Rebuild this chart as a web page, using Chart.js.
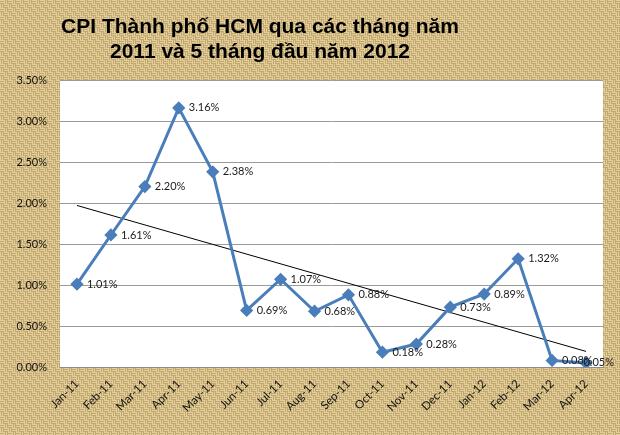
<!DOCTYPE html>
<html>
<head>
<meta charset="utf-8">
<script src="https://cdn.jsdelivr.net/npm/chart.js@4.4.1/dist/chart.umd.min.js"></script>
<style>
  html, body { margin: 0; padding: 0; background: #c2a76f; }
  #wrap { width: 620px; height: 435px; position: relative; }
</style>
</head>
<body>
<div id="wrap"><canvas id="cpiChart"></canvas></div>
<script>
const months = ['Jan-11', 'Feb-11', 'Mar-11', 'Apr-11', 'May-11', 'Jun-11', 'Jul-11', 'Aug-11',
  'Sep-11', 'Oct-11', 'Nov-11', 'Dec-11', 'Jan-12', 'Feb-12', 'Mar-12', 'Apr-12'];
const cpiValues = [1.01, 1.61, 2.20, 3.16, 2.38, 0.69, 1.07, 0.68, 0.88, 0.18, 0.28, 0.73, 0.89, 1.32, 0.08, 0.05];
// trend line ends
const trendMonths = ['Jan-11', 'Apr-12'];
const trendValues = [1.97, 0.19];
const titleLines = ['CPI Thành phố HCM qua các tháng năm', '2011 và 5 tháng đầu năm 2012'];

// woven burlap tile
function makeWeave() {
  const c = document.createElement('canvas');
  c.width = 8;
  c.height = 8;
  const g = c.getContext('2d');
  g.fillStyle = '#9c7f4b';
  g.fillRect(0, 0, 8, 8);
  g.fillStyle = '#e4cf98';
  for (let bx = 0; bx < 2; bx++) {
    for (let by = 0; by < 2; by++) {
      const x0 = bx * 4;
      const y0 = by * 4;
      if ((bx + by) % 2 === 0) {
        g.fillRect(x0, y0, 4, 1.5);
        g.fillRect(x0, y0 + 2, 4, 1.5);
      } else {
        g.fillRect(x0, y0, 1.5, 4);
        g.fillRect(x0 + 2, y0, 1.5, 4);
      }
    }
  }
  return c;
}

const backgroundPlugin = {
  id: 'burlap',
  beforeDraw(chart) {
    const { ctx, chartArea } = chart;
    ctx.save();
    ctx.fillStyle = ctx.createPattern(makeWeave(), 'repeat');
    ctx.fillRect(0, 0, chart.width, chart.height);
    ctx.fillStyle = '#ffffff';
    ctx.fillRect(chartArea.left, chartArea.top,
      chartArea.right - chartArea.left, chartArea.bottom - chartArea.top);
    ctx.restore();
  },
  afterDraw(chart) {
    const ctx = chart.ctx;
    ctx.save();
    ctx.fillStyle = '#000000';
    ctx.font = 'bold 21px "Liberation Sans", Arial, sans-serif';
    ctx.textAlign = 'center';
    ctx.textBaseline = 'middle';
    ctx.fillText(titleLines[0], 260, 27);
    ctx.fillText(titleLines[1], 260, 52);
    ctx.restore();
  },
};

const pointLabels = {
  id: 'pointLabels',
  afterDatasetsDraw(chart) {
    const ctx = chart.ctx;
    const meta = chart.getDatasetMeta(0);
    ctx.save();
    ctx.font = '11px Lato, "Open Sans", sans-serif';
    ctx.fillStyle = '#1a1a1a';
    ctx.textAlign = 'left';
    ctx.textBaseline = 'middle';
    meta.data.forEach((pt, i) => {
      const txt = cpiValues[i].toFixed(2) + '%';
      // keep the label inside the chart, as the spreadsheet does
      const x = Math.min(pt.x + 10, chart.width - 6 - ctx.measureText(txt).width);
      ctx.fillText(txt, x, pt.y);
    });
    ctx.restore();
  },
};

new Chart(document.getElementById('cpiChart'), {
  type: 'line',
  data: {
    labels: months,
    datasets: [
      {
        label: 'CPI',
        data: cpiValues,
        borderColor: '#4a7ebb',
        backgroundColor: '#4a7ebb',
        borderWidth: 3,
        pointStyle: 'rectRot',
        pointRadius: 4.5,
        pointHoverRadius: 4.5,
        tension: 0,
      },
      {
        label: 'Trend',
        data: trendMonths.map((m, i) => ({ x: m, y: trendValues[i] })),
        borderColor: '#000000',
        borderWidth: 1,
        pointRadius: 0,
        tension: 0,
      },
    ],
  },
  options: {
    responsive: true,
    maintainAspectRatio: false,
    animation: false,
    layout: { padding: { top: 80, right: 17, left: 0, bottom: 0 } },
    plugins: {
      legend: { display: false },
      tooltip: { enabled: false },
    },
    scales: {
      x: {
        offset: true,
        grid: { display: false, drawTicks: false },
        border: { display: true, color: '#8c8c8c' },
        ticks: {
          minRotation: 45,
          maxRotation: 45,
          autoSkip: false,
          padding: 10,
          color: '#111111',
          font: { family: 'Lato, "Open Sans", sans-serif', size: 11.5 },
        },
        afterFit(scale) { scale.height = 68; },
      },
      y: {
        min: 0,
        max: 3.5,
        grid: { color: '#9a9a9a', lineWidth: 1, drawTicks: false },
        border: { display: false },
        ticks: {
          stepSize: 0.5,
          padding: 13,
          color: '#111111',
          font: { family: 'Lato, "Open Sans", sans-serif', size: 11 },
          callback: (v) => v.toFixed(2) + '%',
        },
        afterFit(scale) { scale.width = 60; },
      },
    },
  },
  plugins: [backgroundPlugin, pointLabels],
});
</script>
</body>
</html>
